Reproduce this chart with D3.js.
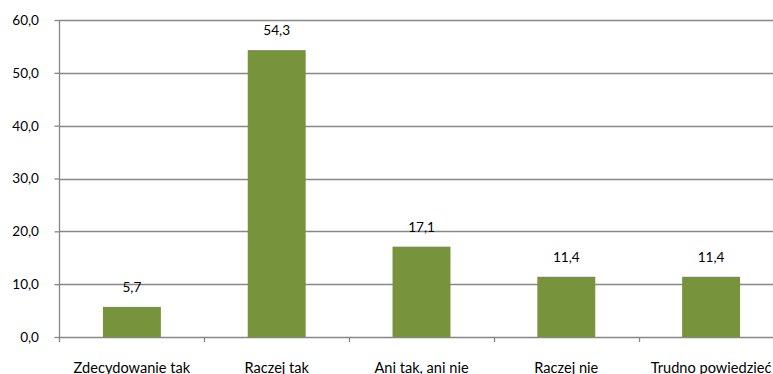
<!DOCTYPE html>
<html>
<head>
<meta charset="utf-8">
<script src="https://cdn.jsdelivr.net/npm/d3@7"></script>
<style>
  html, body { margin: 0; padding: 0; background: #fff; overflow: hidden; }
  svg { display: block; }
  text { font-family: Lato, "Open Sans", sans-serif; fill: #000; }
</style>
</head>
<body>
<svg id="chart" width="773" height="374"></svg>
<script>
// Survey answers and their shares (%)
const categories = ["Zdecydowanie tak", "Raczej tak", "Ani tak, ani nie", "Raczej nie", "Trudno powiedzieć"];
const values = [5.7, 54.3, 17.1, 11.4, 11.4];
const yTicks = [0, 10, 20, 30, 40, 50, 60];

const svg = d3.select("#chart");
const plotLeft = 59.5, plotRight = 783.5, plotTop = 20, plotBottom = 337;
const fmt = v => d3.format(".1f")(v).replace(".", ",");
const numSize = "13.6px", catSize = "14.6px";

const x = d3.scaleBand().domain(categories).range([plotLeft, plotRight]).paddingInner(0).paddingOuter(0);
const y = d3.scaleLinear().domain([0, 60]).range([plotBottom, plotTop]);
const barW = x.bandwidth() * 0.4;

// horizontal gridlines
svg.append("g").selectAll("line").data(yTicks.filter(d => d > 0)).join("line")
  .attr("x1", plotLeft).attr("x2", plotRight)
  .attr("y1", d => Math.round(y(d)) + 0.5).attr("y2", d => Math.round(y(d)) + 0.5)
  .attr("stroke", "#878787").attr("stroke-width", 1.3);

// bars
svg.append("g").selectAll("rect").data(values).join("rect")
  .attr("x", (d, i) => x(categories[i]) + (x.bandwidth() - barW) / 2)
  .attr("width", barW)
  .attr("y", d => y(d))
  .attr("height", d => y(0) - y(d))
  .attr("fill", "#77933C");

// value labels
svg.append("g").selectAll("text").data(values).join("text")
  .attr("x", (d, i) => x(categories[i]) + x.bandwidth() / 2)
  .attr("y", d => y(d) - 15)
  .attr("text-anchor", "middle")
  .attr("font-size", numSize)
  .text(d => fmt(d));

// y axis
const yAxis = d3.axisLeft(y).tickValues(yTicks).tickFormat(fmt).tickSize(5).tickPadding(15.5);
const gy = svg.append("g").attr("transform", `translate(${plotLeft},0)`).call(yAxis);
gy.select(".domain").attr("stroke", "#878787").attr("stroke-width", 1.3)
  .attr("d", `M0,${plotTop}V${plotBottom + 5}`);
gy.selectAll(".tick line").attr("stroke", "#878787").attr("stroke-width", 1.3);
gy.selectAll(".tick text").attr("font-size", numSize).attr("font-family", "Lato, 'Open Sans', sans-serif").attr("fill", "#000");

// x axis
const xAxis = d3.axisBottom(x).tickSize(0).tickPadding(0);
const gx = svg.append("g").attr("transform", `translate(0,${plotBottom})`).call(xAxis);
gx.select(".domain").attr("stroke", "#878787").attr("stroke-width", 1.3).attr("d", `M${plotLeft},0.5H${plotRight}`);
gx.selectAll(".tick text").attr("font-size", catSize).attr("font-family", "Lato, 'Open Sans', sans-serif")
  .attr("fill", "#000").attr("dy", null).attr("y", 35.5);
// tick marks at category boundaries
gx.append("g").selectAll("line").data(categories.slice(1).map(c => x(c)).concat([plotRight])).join("line")
  .attr("x1", d => Math.round(d) + 0.5).attr("x2", d => Math.round(d) + 0.5)
  .attr("y1", 0).attr("y2", 5).attr("stroke", "#878787").attr("stroke-width", 1.3);
</script>
</body>
</html>
